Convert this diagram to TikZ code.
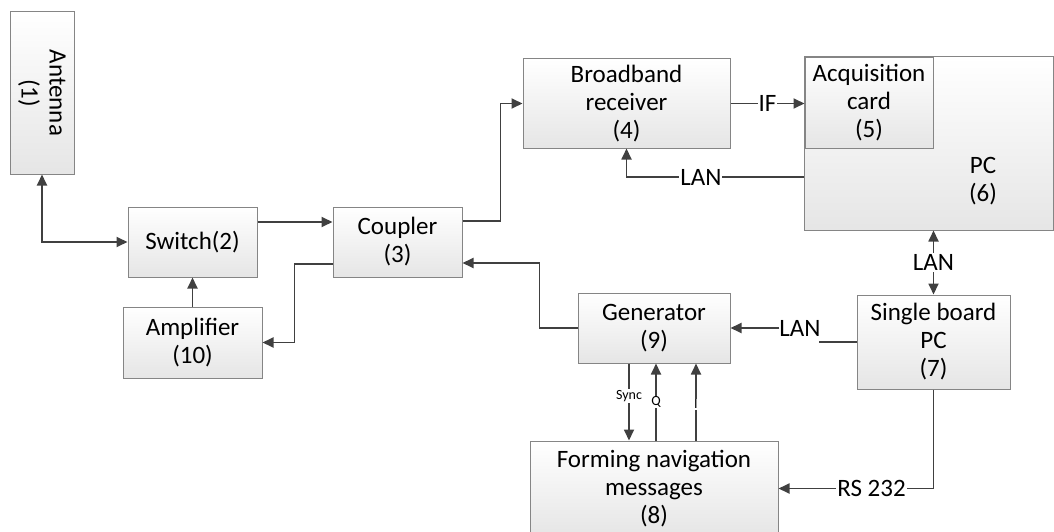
\documentclass[tikz,border=0pt]{standalone}
\usepackage{fontspec}
\setmainfont{Carlito}
\usetikzlibrary{arrows.meta}
\definecolor{linegray}{HTML}{404040}
\definecolor{boxgray}{HTML}{858585}
\begin{document}
\begin{tikzpicture}[x=1pt,y=-1pt,
    block/.style={draw=boxgray,line width=1pt,top color=white,bottom color=black!10,
      inner sep=0pt,align=center,font=\fontsize{25}{28}\selectfont},
    link/.style={draw=linegray,line width=1.8pt,
      arrows={-Triangle[length=11pt,width=10pt]}},
    twoway/.style={arrows={Triangle[length=11pt,width=10pt]-Triangle[length=11pt,width=10pt]}},
    tag/.style={fill=white,inner sep=1pt,text=black,font=\fontsize{25}{28}\selectfont},
    minitag/.style={fill=white,inner sep=1pt,text=black,font=\fontsize{14}{16}\selectfont}]
  \useasboundingbox (0,0) rectangle (1054,532);
  % blocks
  \node[block,minimum width=64,minimum height=162] (ant) at (42,93) {};
  \node[rotate=-90,align=center,font=\fontsize{25}{28}\selectfont] (anttext) at (ant) {Antenna\\(1)};
  \node[block,minimum width=129,minimum height=70] (sw) at (192.5,242) {Switch(2)};
  \node[block,minimum width=139,minimum height=71] (amp) at (192.5,342.5) {Amplifier\\(10)};
  \node[block,minimum width=129,minimum height=70] (cpl) at (397.5,242) {Coupler\\(3)};
  \node[block,minimum width=207,minimum height=89] (brx) at (626.5,103.5) {Broadband\\receiver\\(4)};
  \node[block,minimum width=249,minimum height=173] (pc) at (928.5,143.5) {};
  \node[align=center,font=\fontsize{25}{28}\selectfont] (pctext) at (983,181) {PC\\(6)};
  \node[block,minimum width=128,minimum height=90] (acq) at (869,103) {Acquisition\\card\\(5)};
  \node[block,minimum width=152,minimum height=70] (gen) at (654,328) {Generator\\(9)};
  \node[block,minimum width=153,minimum height=94] (sbc) at (933.5,342) {Single board\\PC\\(7)};
  \node[block,minimum width=248,minimum height=95] (fnm) at (654,488.5) {Forming navigation\\messages\\(8)};
  % connections
  \draw[link,twoway] (ant.south) |- (sw.west);
  \draw[link] ([yshift=20pt]sw.east) -- ([yshift=20pt]cpl.west);
  \draw[link] ([yshift=21pt]cpl.east) -- ++(38,0) |- (brx.west);
  \draw[link] (brx.east) -- node[tag]{IF} (brx.east -| acq.west);
  \draw[link] (pc.west |- 0,177) -| node[tag,pos=0.29]{LAN} (brx.south);
  \draw[link,twoway] (sbc.north |- pc.south) -- node[tag]{LAN} (sbc.north);
  \draw[link,arrows=-] (sbc.west) -- ++(-38,0);
  \node[tag,inner sep=0pt] (lanin) at (800,328) {LAN};
  \draw[link] (lanin) -- (gen.east);
  \draw[link] (gen.west) -- ++(-38,0) |- ([yshift=-21pt]cpl.east);
  \draw[link] ([yshift=-22pt]cpl.west) -- ++(-38,0) |- (amp.east);
  \draw[link] (amp.north) -- (sw.south);
  \draw[link] ([xshift=-25pt]gen.south) -- node[minitag,pos=0.42]{Sync} ([xshift=-25pt]gen.south |- fnm.north);
  \draw[link] ([xshift=2pt]fnm.north) -- node[minitag,pos=0.5]{Q} ([xshift=2pt]fnm.north |- gen.south);
  \draw[link] ([xshift=42pt]fnm.north) -- node[minitag,pos=0.47]{I} ([xshift=42pt]fnm.north |- gen.south);
  \draw[link] (sbc.south) |- node[tag,pos=0.70]{RS 232} (fnm.east);
\end{tikzpicture}
\end{document}
